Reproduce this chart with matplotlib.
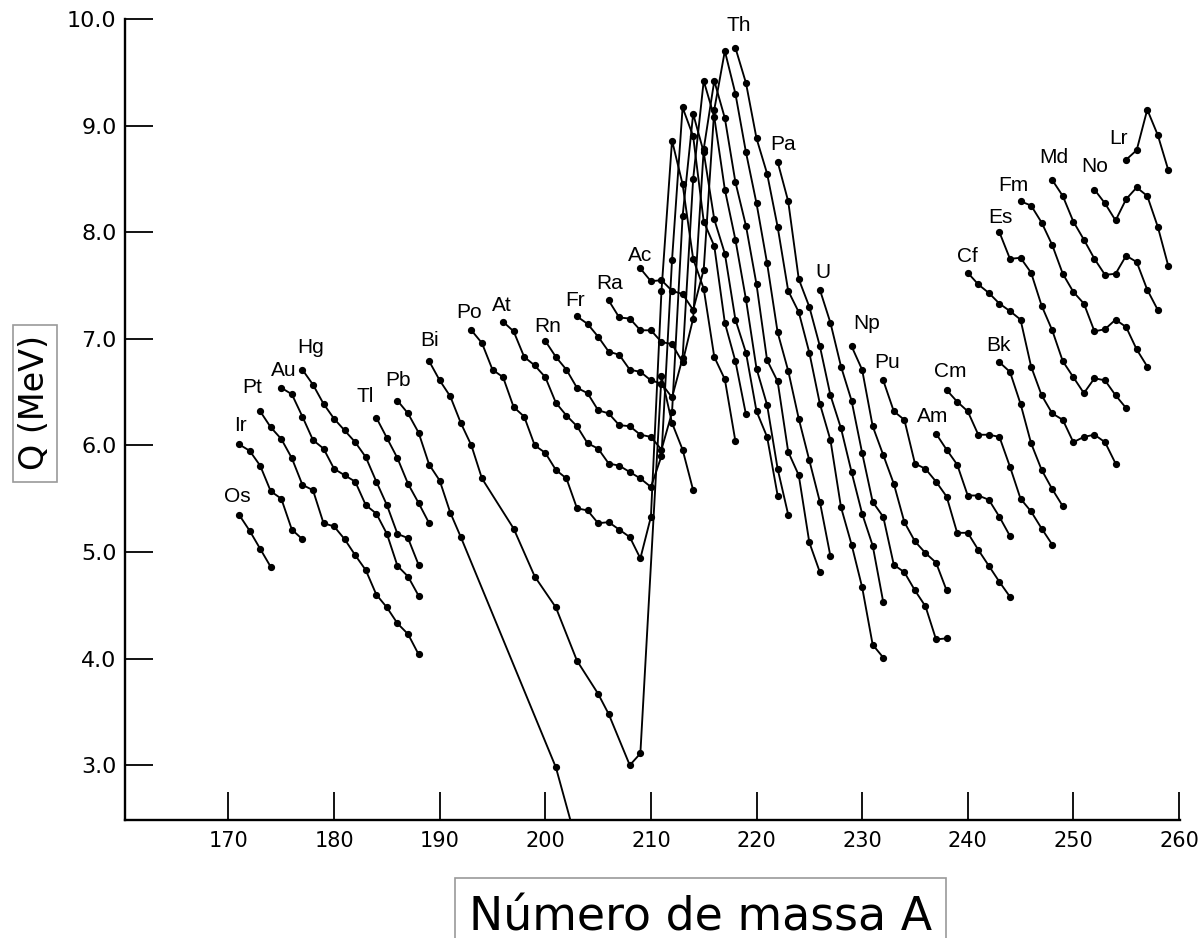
import matplotlib
matplotlib.use("Agg")
import matplotlib.pyplot as plt
from matplotlib import font_manager
from matplotlib.patches import Rectangle

# ---------------- data: mass number A and Q (MeV) for each element ----------------
Os_A = [171, 172, 173, 174]
Os_Q = [5.35, 5.20, 5.03, 4.86]

Ir_A = [171, 172, 173, 174, 175, 176, 177]
Ir_Q = [6.01, 5.95, 5.81, 5.57, 5.50, 5.21, 5.12]

Pt_A = [173, 174, 175, 176, 177, 178, 179, 180, 181, 182, 183, 184, 185, 186, 187, 188]
Pt_Q = [6.32, 6.17, 6.06, 5.88, 5.63, 5.58, 5.27, 5.24, 5.12, 4.97, 4.83, 4.60, 4.48, 4.33, 4.23, 4.04]

Au_A = [175, 176, 177, 178, 179, 180, 181, 182, 183, 184, 185, 186, 187, 188]
Au_Q = [6.54, 6.48, 6.27, 6.05, 5.97, 5.78, 5.72, 5.66, 5.44, 5.36, 5.17, 4.87, 4.77, 4.59]

Hg_A = [177, 178, 179, 180, 181, 182, 183, 184, 185, 186, 187, 188]
Hg_Q = [6.71, 6.57, 6.39, 6.25, 6.14, 6.03, 5.89, 5.66, 5.44, 5.17, 5.13, 4.88]

Tl_A = [184, 185, 186, 187, 188, 189]
Tl_Q = [6.26, 6.07, 5.88, 5.64, 5.46, 5.27]

Pb_A = [186, 187, 188, 189, 190, 191, 192, 201, 204]
Pb_Q = [6.42, 6.30, 6.12, 5.82, 5.67, 5.37, 5.14, 2.98, 1.90]

Bi_A = [189, 190, 191, 192, 193, 194, 197, 199, 201, 203, 205, 206, 208, 209, 211, 212, 213, 214]
Bi_Q = [6.79, 6.61, 6.46, 6.21, 6.00, 5.69, 5.22, 4.77, 4.48, 3.98, 3.67, 3.48, 3.00, 3.11, 6.65, 6.21, 5.96, 5.58]

Po_A = [193, 194, 195, 196, 197, 198, 199, 200, 201, 202, 203, 204, 205, 206, 207, 208, 209,
        210, 211, 212, 213, 214, 215, 216, 217, 218]
Po_Q = [7.08, 6.96, 6.71, 6.64, 6.36, 6.27, 6.00, 5.93, 5.77, 5.69, 5.41, 5.39, 5.27, 5.28, 5.21, 5.14, 4.94,
        5.33, 7.45, 8.86, 8.45, 7.75, 7.47, 6.83, 6.62, 6.04]

At_A = [196, 197, 198, 199, 200, 201, 202, 203, 204, 205, 206, 207, 208, 209, 210,
        211, 212, 213, 214, 215, 216, 217, 218, 219]
At_Q = [7.16, 7.07, 6.83, 6.75, 6.64, 6.40, 6.28, 6.18, 6.02, 5.97, 5.83, 5.81, 5.75, 5.69, 5.61,
        5.90, 7.74, 9.17, 8.90, 8.10, 7.87, 7.15, 6.79, 6.29]

Rn_A = [200, 201, 202, 203, 204, 205, 206, 207, 208, 209, 210, 211,
        212, 213, 214, 215, 216, 217, 218, 219, 220, 221, 222]
Rn_Q = [6.98, 6.83, 6.71, 6.54, 6.49, 6.33, 6.30, 6.19, 6.18, 6.10, 6.08, 5.96,
        6.31, 8.15, 9.11, 8.75, 8.12, 7.80, 7.18, 6.87, 6.32, 6.08, 5.53]

Fr_A = [203, 204, 205, 206, 207, 208, 209, 210, 211, 212,
        213, 214, 215, 216, 217, 218, 219, 220, 221, 222, 223]
Fr_Q = [7.21, 7.14, 7.02, 6.88, 6.85, 6.71, 6.69, 6.61, 6.58, 6.45,
        6.82, 8.50, 9.42, 9.08, 8.40, 7.93, 7.37, 6.72, 6.38, 5.78, 5.35]

Ra_A = [206, 207, 208, 209, 210, 211, 212, 213,
        214, 215, 216, 217, 218, 219, 220, 221, 222, 223, 224, 225, 226]
Ra_Q = [7.36, 7.20, 7.19, 7.08, 7.08, 6.97, 6.95, 6.78,
        7.19, 8.78, 9.42, 9.07, 8.47, 8.06, 7.51, 6.80, 6.60, 5.94, 5.72, 5.09, 4.81]

Ac_A = [209, 210, 211, 212, 213, 214,
        215, 216, 217, 218, 219, 220, 221, 222, 223, 224, 225, 226, 227]
Ac_Q = [7.66, 7.54, 7.55, 7.45, 7.42, 7.27,
        7.65, 9.15, 9.70, 9.30, 8.75, 8.27, 7.71, 7.06, 6.70, 6.25, 5.86, 5.47, 4.96]

Th_A = [218, 219, 220, 221, 222, 223, 224, 225, 226, 227, 228, 229, 230, 231, 232]
Th_Q = [9.73, 9.40, 8.88, 8.55, 8.05, 7.45, 7.25, 6.87, 6.39, 6.05, 5.42, 5.07, 4.67, 4.13, 4.01]

Pa_A = [222, 223, 224, 225, 226, 227, 228, 229, 230, 231, 232]
Pa_Q = [8.66, 8.29, 7.56, 7.30, 6.93, 6.47, 6.16, 5.75, 5.36, 5.06, 4.53]

U_A = [226, 227, 228, 229, 230, 231, 232, 233, 234, 235, 236, 237, 238]
U_Q = [7.46, 7.15, 6.74, 6.42, 5.93, 5.47, 5.33, 4.88, 4.81, 4.64, 4.49, 4.18, 4.19]

Np_A = [229, 230, 231, 232, 233, 234, 235, 236, 237, 238]
Np_Q = [6.93, 6.71, 6.18, 5.91, 5.64, 5.28, 5.10, 4.99, 4.90, 4.64]

Pu_A = [232, 233, 234, 235, 236, 237, 238, 239, 240, 241, 242, 243, 244]
Pu_Q = [6.61, 6.32, 6.24, 5.83, 5.78, 5.66, 5.52, 5.18, 5.18, 5.02, 4.87, 4.72, 4.58]

Am_A = [237, 238, 239, 240, 241, 242, 243, 244]
Am_Q = [6.11, 5.96, 5.82, 5.53, 5.53, 5.49, 5.33, 5.15]

Cm_A = [238, 239, 240, 241, 242, 243, 244, 245, 246, 247, 248]
Cm_Q = [6.52, 6.41, 6.32, 6.10, 6.10, 6.08, 5.80, 5.50, 5.38, 5.22, 5.07]

Bk_A = [243, 244, 245, 246, 247, 248, 249]
Bk_Q = [6.78, 6.69, 6.39, 6.02, 5.77, 5.59, 5.43]

Cf_A = [240, 241, 242, 243, 244, 245, 246, 247, 248, 249, 250, 251, 252, 253, 254]
Cf_Q = [7.62, 7.51, 7.43, 7.33, 7.26, 7.18, 6.74, 6.47, 6.30, 6.24, 6.03, 6.08, 6.10, 6.03, 5.83]

Es_A = [243, 244, 245, 246, 247, 248, 249, 250, 251, 252, 253, 254, 255]
Es_Q = [8.00, 7.75, 7.76, 7.62, 7.31, 7.08, 6.79, 6.64, 6.49, 6.63, 6.61, 6.47, 6.35]

Fm_A = [245, 246, 247, 248, 249, 250, 251, 252, 253, 254, 255, 256, 257]
Fm_Q = [8.29, 8.25, 8.09, 7.88, 7.61, 7.44, 7.33, 7.07, 7.09, 7.18, 7.11, 6.90, 6.74]

Md_A = [248, 249, 250, 251, 252, 253, 254, 255, 256, 257, 258]
Md_Q = [8.49, 8.34, 8.10, 7.93, 7.75, 7.60, 7.61, 7.78, 7.72, 7.46, 7.27]

No_A = [252, 253, 254, 255, 256, 257, 258, 259]
No_Q = [8.40, 8.27, 8.11, 8.31, 8.42, 8.34, 8.05, 7.68]

Lr_A = [255, 256, 257, 258, 259]
Lr_Q = [8.68, 8.77, 9.15, 8.91, 8.58]

x_ticks = [170, 180, 190, 200, 210, 220, 230, 240, 250, 260]
x_tick_labels = ["170", "180", "190", "200", "210", "220", "230", "240", "250", "260"]
y_ticks = [3.0, 4.0, 5.0, 6.0, 7.0, 8.0, 9.0, 10.0]
y_tick_labels = ["3.0", "4.0", "5.0", "6.0", "7.0", "8.0", "9.0", "10.0"]

x_label = "Número de massa A"
y_label = "Q (MeV)"

chains = [
    ("Os", Os_A, Os_Q), ("Ir", Ir_A, Ir_Q), ("Pt", Pt_A, Pt_Q), ("Au", Au_A, Au_Q),
    ("Hg", Hg_A, Hg_Q), ("Tl", Tl_A, Tl_Q), ("Pb", Pb_A, Pb_Q), ("Bi", Bi_A, Bi_Q),
    ("Po", Po_A, Po_Q), ("At", At_A, At_Q), ("Rn", Rn_A, Rn_Q), ("Fr", Fr_A, Fr_Q),
    ("Ra", Ra_A, Ra_Q), ("Ac", Ac_A, Ac_Q), ("Th", Th_A, Th_Q), ("Pa", Pa_A, Pa_Q),
    ("U", U_A, U_Q), ("Np", Np_A, Np_Q), ("Pu", Pu_A, Pu_Q), ("Am", Am_A, Am_Q),
    ("Cm", Cm_A, Cm_Q), ("Bk", Bk_A, Bk_Q), ("Cf", Cf_A, Cf_Q), ("Es", Es_A, Es_Q),
    ("Fm", Fm_A, Fm_Q), ("Md", Md_A, Md_Q), ("No", No_A, No_Q), ("Lr", Lr_A, Lr_Q),
]

# ---------------- layout / style ----------------
# label offset from the first point of each chain, in pixels (dx right, dy up)
label_offset_px = {
    "Os": (-2, 18), "Ir": (1, 19), "Pt": (-8, 24), "Au": (2, 17), "Hg": (8, 22),
    "Tl": (-11, 21), "Pb": (1, 20), "Bi": (0, 21), "Po": (-2, 18), "At": (-1, 16),
    "Rn": (2, 14), "Fr": (-2, 16), "Ra": (1, 17), "Ac": (0, 13), "Th": (3, 22),
    "Pa": (5, 17), "U": (3, 17), "Np": (15, 23), "Pu": (4, 18), "Am": (-3, 17),
    "Cm": (4, 18), "Bk": (-1, 17), "Cf": (0, 16), "Es": (1, 15), "Fm": (-7, 16),
    "Md": (2, 22), "No": (0, 23), "Lr": (-8, 21),
}

available = {f.name for f in font_manager.fontManager.ttflist}
NARROW = "Liberation Sans Narrow" in available
LABEL_FONT = ["Liberation Sans", "DejaVu Sans"]

W, H = 1201, 938
fig = plt.figure(figsize=(W / 100, H / 100), dpi=100)
fig.patch.set_facecolor("white")
ax = fig.add_axes([125 / W, 1 - 820 / H, (1180 - 125) / W, (820 - 19) / H])
ax.set_xlim(160.2, 260.1)
ax.set_ylim(2.486, 10.0)

for name, A, Q in chains:
    ax.plot(A, Q, color="black", lw=1.35, marker="o", ms=4.2, mfc="black", mec="black",
            solid_joinstyle="round", zorder=3)
    dx, dy = label_offset_px[name]
    ax.annotate(name, xy=(A[0], Q[0]), xytext=(dx * 0.72, dy * 0.72), textcoords="offset points",
                ha="center", va="center", fontsize=15, family=LABEL_FONT, color="black")

for s in ["top", "right"]:
    ax.spines[s].set_visible(False)
for s in ["left", "bottom"]:
    ax.spines[s].set_linewidth(1.7)
    ax.spines[s].set_color("black")

ax.set_xticks(x_ticks)
ax.set_yticks(y_ticks)
if NARROW:
    ax.set_xticklabels(x_tick_labels, fontsize=18, family=["Liberation Sans Narrow", "DejaVu Sans"])
else:
    ax.set_xticklabels(x_tick_labels, fontsize=15, family=["DejaVu Sans"])
ax.set_yticklabels(y_tick_labels, fontsize=16, family=["DejaVu Sans"])
ax.tick_params(axis="both", direction="in", length=20, width=1.3, color="black")
ax.tick_params(axis="y", pad=6)
ax.tick_params(axis="x", pad=8)

# y label with grey frame
fig.patches.append(Rectangle((13 / W, 1 - 482 / H), 44 / W, 157 / H, transform=fig.transFigure,
                             fill=True, facecolor="white", edgecolor="#9a9a9a", lw=1.2, zorder=1))
fig.text(34 / W, 1 - 402.5 / H, y_label, rotation=90, ha="center", va="center",
         fontsize=24, family=["DejaVu Sans"], color="black", zorder=2)

# x label with grey frame
fig.patches.append(Rectangle((455 / W, 1 - 945 / H), 491 / W, 67 / H, transform=fig.transFigure,
                             fill=True, facecolor="white", edgecolor="#9a9a9a", lw=1.2, zorder=1))
if NARROW:
    fig.text(701 / W, 1 - 930 / H, x_label, ha="center", va="baseline", fontsize=42,
             family=["Liberation Sans Narrow", "DejaVu Sans"], color="black", zorder=2)
else:
    fig.text(701 / W, 1 - 930 / H, x_label, ha="center", va="baseline", fontsize=33,
             family=["DejaVu Sans"], color="black", zorder=2)

fig.savefig("out.png", dpi=100, facecolor="white")
